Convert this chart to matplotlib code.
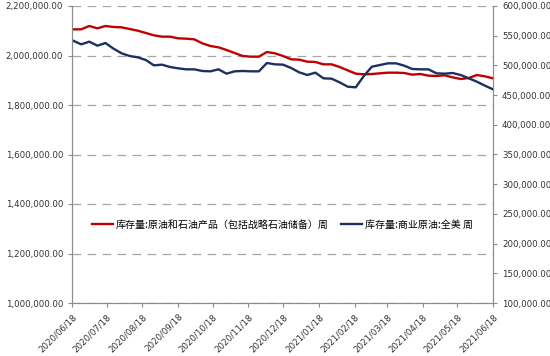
import matplotlib
matplotlib.use("Agg")
import matplotlib.pyplot as plt
import matplotlib.dates as mdates
import matplotlib.ticker as mticker
import pandas as pd

plt.rcParams['font.family'] = ['DejaVu Sans', 'Noto Sans CJK SC']

RED: str = "#c00000"
BLUE: str = "#1c3160"
GRID: str = "#a6a6a6"
AXIS: str = "#8c8c8c"

dates = pd.date_range("2020-06-19", "2021-06-18", freq="7D")

total_stocks = [
    2105724, 2105724, 2119192, 2109764, 2119192, 2115151, 2113804, 2107070,
    2100336, 2090909, 2081481, 2076094, 2076094, 2069360, 2068013, 2065320,
    2049158, 2038384, 2032997, 2022222, 2010101, 1997980, 1995286, 1995286,
    2014141, 2008754, 1997980, 1984512, 1983165, 1975084, 1973737, 1964310,
    1964310, 1953535, 1940067, 1926599, 1923906, 1925253, 1927946, 1930640,
    1930640, 1929293, 1922559, 1925253, 1918519, 1917172, 1919865, 1911785,
    1905051, 1909091, 1921212, 1915825, 1907744,
]

commercial_crude = [
    541638, 535465, 539955, 533221, 537710, 528170, 520314, 515825,
    513580, 509091, 500112, 501234, 497306, 495061, 493378, 493378,
    490572, 490011, 493378, 486083, 490011, 490572, 490011, 490011,
    504040, 501795, 501234, 495623, 488328, 483838, 487767, 478227,
    477666, 471493, 464198, 463076, 482155, 497867, 500673, 503479,
    503479, 499551, 493939, 493378, 493378, 486644, 486083, 487205,
    483838, 478227, 472615, 465881, 459708,
]

labels = ["库存量:原油和石油产品（包括战略石油储备）周", "库存量:商业原油:全美 周"]


def money(v, pos):
    return f"{v:,.2f}"


fig = plt.figure(figsize=(5.5, 3.56), dpi=100)
ax = fig.add_axes([72 / 550, 1 - 303 / 356, (493 - 72) / 550, (303 - 6) / 356])
ax2 = ax.twinx()

l1, = ax.plot(dates, total_stocks, color=RED, lw=1.7)
l2, = ax2.plot(dates, commercial_crude, color=BLUE, lw=1.7)

ax.set_ylim(1000000, 2200000)
ax.yaxis.set_major_locator(mticker.MultipleLocator(200000))
ax.yaxis.set_major_formatter(mticker.FuncFormatter(money))
ax2.set_ylim(100000, 600000)
ax2.yaxis.set_major_locator(mticker.MultipleLocator(50000))
ax2.yaxis.set_major_formatter(mticker.FuncFormatter(money))

ax.set_xlim(pd.Timestamp("2020-06-18"), pd.Timestamp("2021-06-18"))
ax.xaxis.set_major_locator(mdates.MonthLocator(bymonthday=18))
ax.xaxis.set_major_formatter(mdates.DateFormatter("%Y/%m/%d"))

ax.grid(axis="y", color=GRID, ls=(0, (7, 5)), lw=0.9)
for a in (ax, ax2):
    a.spines["top"].set_visible(False)
    for s in ("left", "right", "bottom"):
        a.spines[s].set_color(AXIS)
        a.spines[s].set_linewidth(0.8)
    a.tick_params(colors=AXIS, labelcolor="#333333", labelsize=6.2,
                  length=3, width=0.8)

for t in ax.get_xticklabels():
    t.set_rotation(45)
    t.set_ha("right")
    t.set_rotation_mode("anchor")

ax2.legend([l1, l2], labels, loc="center", bbox_to_anchor=(0.5, 0.263),
           ncol=2, frameon=False, handlelength=2.1, columnspacing=1.3,
           handletextpad=0.3, prop={"family": ["Noto Sans CJK SC"], "size": 7.2})

fig.savefig("out.png", dpi=100)
